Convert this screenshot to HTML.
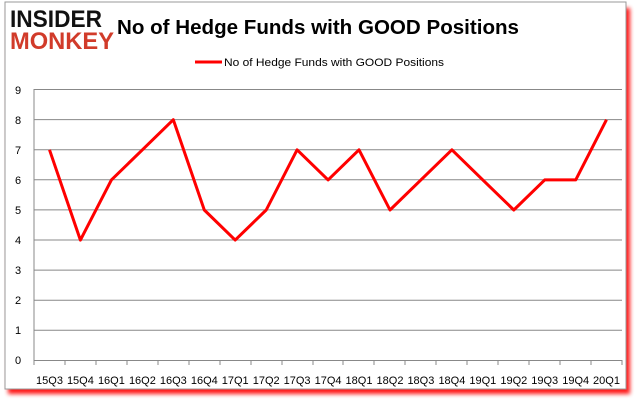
<!DOCTYPE html><html><head><style>body{margin:0;background:#fff;width:635px;height:405px;overflow:hidden;font-family:"Liberation Sans",sans-serif}</style></head><body>
<svg width="635" height="405" viewBox="0 0 635 405" font-family="Liberation Sans, sans-serif">
<defs><filter id="b"><feGaussianBlur stdDeviation="2"/></filter></defs>
<rect x="8" y="8" width="622" height="386" fill="#f00" filter="url(#b)" opacity="0.9"/>
<rect x="5" y="2" width="621" height="387" fill="#fff" stroke="#999"/>
<text x="10" y="27" font-size="24" font-weight="bold" fill="#111" textLength="92" lengthAdjust="spacingAndGlyphs">INSIDER</text>
<text x="10" y="49" font-size="24" font-weight="bold" fill="#d13b2a" textLength="104" lengthAdjust="spacingAndGlyphs">MONKEY</text>
<text x="117" y="34" font-size="20" font-weight="bold" fill="#000" textLength="402" lengthAdjust="spacingAndGlyphs">No of Hedge Funds with GOOD Positions</text>
<line x1="195" y1="62" x2="222" y2="62" stroke="#f00" stroke-width="3"/>
<text x="224" y="66" font-size="11" fill="#000" textLength="220" lengthAdjust="spacingAndGlyphs">No of Hedge Funds with GOOD Positions</text>
<g stroke="#888" stroke-width="1">
<line x1="34" y1="89.5" x2="622" y2="89.5"/><line x1="34" y1="119.6" x2="622" y2="119.6"/><line x1="34" y1="149.7" x2="622" y2="149.7"/><line x1="34" y1="179.8" x2="622" y2="179.8"/><line x1="34" y1="209.9" x2="622" y2="209.9"/><line x1="34" y1="240" x2="622" y2="240"/><line x1="34" y1="270.1" x2="622" y2="270.1"/><line x1="34" y1="300.2" x2="622" y2="300.2"/><line x1="34" y1="330.3" x2="622" y2="330.3"/><line x1="34" y1="360.5" x2="622" y2="360.5"/>
<line x1="34" y1="89" x2="34" y2="365"/>
<line x1="65" y1="360" x2="65" y2="365"/><line x1="96" y1="360" x2="96" y2="365"/><line x1="127" y1="360" x2="127" y2="365"/><line x1="158" y1="360" x2="158" y2="365"/><line x1="189" y1="360" x2="189" y2="365"/><line x1="220" y1="360" x2="220" y2="365"/><line x1="251" y1="360" x2="251" y2="365"/><line x1="282" y1="360" x2="282" y2="365"/><line x1="313" y1="360" x2="313" y2="365"/><line x1="343" y1="360" x2="343" y2="365"/><line x1="374" y1="360" x2="374" y2="365"/><line x1="405" y1="360" x2="405" y2="365"/><line x1="436" y1="360" x2="436" y2="365"/><line x1="467" y1="360" x2="467" y2="365"/><line x1="498" y1="360" x2="498" y2="365"/><line x1="529" y1="360" x2="529" y2="365"/><line x1="560" y1="360" x2="560" y2="365"/><line x1="591" y1="360" x2="591" y2="365"/><line x1="622" y1="360" x2="622" y2="365"/>
</g>
<g font-size="11" fill="#000" text-anchor="middle">
<text x="18" y="94">9</text><text x="18" y="124">8</text><text x="18" y="154">7</text><text x="18" y="184">6</text><text x="18" y="214">5</text><text x="18" y="244">4</text><text x="18" y="274">3</text><text x="18" y="304">2</text><text x="18" y="334">1</text><text x="18" y="364">0</text>
</g>
<g font-size="11" fill="#000" text-anchor="middle">
<text x="49.5" y="384">15Q3</text><text x="80.4" y="384">15Q4</text><text x="111.4" y="384">16Q1</text><text x="142.4" y="384">16Q2</text><text x="173.3" y="384">16Q3</text><text x="204.3" y="384">16Q4</text><text x="235.2" y="384">17Q1</text><text x="266.2" y="384">17Q2</text><text x="297.1" y="384">17Q3</text><text x="328.1" y="384">17Q4</text><text x="359" y="384">18Q1</text><text x="390" y="384">18Q2</text><text x="420.9" y="384">18Q3</text><text x="451.9" y="384">18Q4</text><text x="482.8" y="384">19Q1</text><text x="513.8" y="384">19Q2</text><text x="544.7" y="384">19Q3</text><text x="575.7" y="384">19Q4</text><text x="606.5" y="384">20Q1</text>
</g>
<polyline fill="none" stroke="#f00" stroke-width="3" stroke-linejoin="round" points="49.5,149.8 80.4,240.1 111.4,179.9 142.4,149.8 173.3,119.7 204.3,210 235.2,240.1 266.2,210 297.1,149.8 328.1,179.9 359,149.8 390,210 420.9,179.9 451.9,149.8 482.8,179.9 513.8,210 544.7,179.9 575.7,179.9 606.5,119.7"/>
</svg></body></html>
